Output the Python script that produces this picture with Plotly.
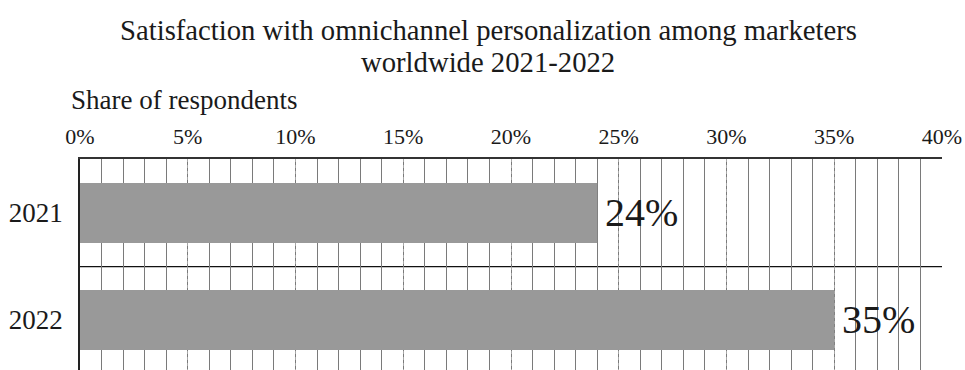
import plotly.graph_objects as go

# Survey data
years = ["2021", "2022"]
shares = [24, 35]
tick_values = [0, 5, 10, 15, 20, 25, 30, 35, 40]
tick_labels = ["0%", "5%", "10%", "15%", "20%", "25%", "30%", "35%", "40%"]

title_lines = ["Satisfaction with omnichannel personalization among marketers",
               "worldwide 2021-2022"]
axis_label = "Share of respondents"

SERIF = "Liberation Serif"
INK = "#1a1a1a"

# Plot area in pixels, used to place the free-standing texts
FIG_W, FIG_H = 965, 370
M_L, M_R, M_T, M_B = 80, 23, 159, 0
PLOT_W = FIG_W - M_L - M_R
PLOT_H = FIG_H - M_T - M_B


def px_to_paper(px, py):
    return (px - M_L) / PLOT_W, (FIG_H - M_B - py) / PLOT_H


fig = go.Figure(
    go.Bar(
        x=shares,
        y=years,
        orientation="h",
        width=0.56,
        marker=dict(color="#999999", line=dict(width=0)),
        hoverinfo="skip",
    )
)

# Value labels just past the end of each bar (category index as y position)
for idx, value in enumerate(shares):
    fig.add_annotation(
        x=value, y=idx, xref="x", yref="y",
        text=f"{value}%", showarrow=False,
        xanchor="left", yanchor="middle", xshift=6, yshift=1,
        font=dict(family=SERIF, size=40, color=INK),
    )

# Boundary between the two year bands
fig.add_shape(
    type="line", xref="paper", yref="y",
    x0=0, x1=1, y0=0.5, y1=0.5,
    line=dict(color="#111111", width=1.2),
    layer="below",
)

# Title, one annotation per line
for line, cy in zip(title_lines, [30, 62]):
    tx, ty = px_to_paper(488, cy)
    fig.add_annotation(
        text=line, xref="paper", yref="paper", x=tx, y=ty,
        xanchor="center", yanchor="middle", showarrow=False,
        font=dict(family=SERIF, size=28.7, color=INK),
    )

ax, ay = px_to_paper(69, 100)
fig.add_annotation(
    text=axis_label, xref="paper", yref="paper", x=ax, y=ay,
    xanchor="left", yanchor="middle", showarrow=False,
    font=dict(family=SERIF, size=27, color=INK),
)

fig.update_layout(
    width=FIG_W,
    height=FIG_H,
    margin=dict(l=M_L, r=M_R, t=M_T, b=M_B),
    paper_bgcolor="white",
    plot_bgcolor="white",
    showlegend=False,
    xaxis=dict(
        side="top",
        range=[0, 40],
        tickvals=tick_values,
        ticktext=tick_labels,
        tickfont=dict(family=SERIF, size=22, color=INK),
        ticks="outside",
        ticklen=4,
        tickcolor="rgba(0,0,0,0)",
        showline=True,
        linecolor="#333333",
        linewidth=1.5,
        showgrid=True,
        gridcolor="#a8a8a8",
        gridwidth=1,
        griddash="dot",
        minor=dict(
            dtick=1,
            showgrid=True,
            gridcolor="#7a7a7a",
            gridwidth=1,
            griddash="solid",
        ),
        zeroline=False,
        fixedrange=True,
    ),
    yaxis=dict(
        type="category",
        categoryorder="array",
        categoryarray=years,
        range=[1.467, -0.505],
        tickfont=dict(family=SERIF, size=27, color=INK),
        ticks="",
        ticklabelstandoff=10,
        showline=True,
        linecolor="#222222",
        linewidth=1.5,
        showgrid=False,
        zeroline=False,
        fixedrange=True,
    ),
)

fig.write_html("out.html")
